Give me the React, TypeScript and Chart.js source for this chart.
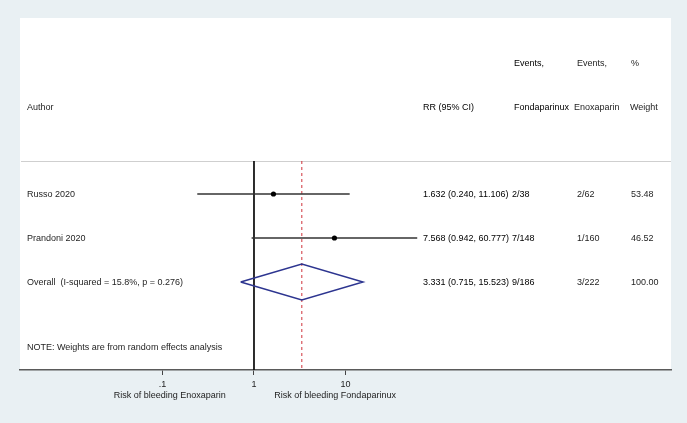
import React, { useEffect, useRef } from 'react';
import { Chart, registerables } from 'chart.js';

Chart.register(...registerables);

// ---- data ----
const studies = ['Russo 2020', 'Prandoni 2020'];
const rr = [1.632, 7.568];
const ciLow = [0.24, 0.942];
const ciHigh = [11.106, 60.777];
const rrText = ['1.632 (0.240, 11.106)', '7.568 (0.942, 60.777)'];
const eventsFonda = ['2/38', '7/148'];
const eventsEnox = ['2/62', '1/160'];
const weights = ['53.48', '46.52'];

const overallLabel = 'Overall  (I-squared = 15.8%, p = 0.276)';
const overallRR = 3.331;
const overallLow = 0.715;
const overallHigh = 15.523;
const overallRRText = '3.331 (0.715, 15.523)';
const overallFonda = '9/186';
const overallEnox = '3/222';
const overallWeight = '100.00';

const headerTop = ['Events,', 'Events,', '%'];
const headerBottom = ['Author', 'RR (95% CI)', 'Fondaparinux', 'Enoxaparin', 'Weight'];
const tickValues = [0.1, 1, 10];
const tickLabels = ['.1', '1', '10'];
const axisLabels = ['Risk of bleeding Enoxaparin', 'Risk of bleeding Fondaparinux'];
const axisLabelAt = [0.12, 7.7];
const note = 'NOTE: Weights are from random effects analysis';

// row positions on the (reversed) y scale
const studyRows = [4, 5];
const overallRow = 6;
const sepRow = 3.25;
const noteRow = 7.5;

const FONT = "'Liberation Sans', Arial, Helvetica, sans-serif";

export default function App() {
  const ref = useRef<HTMLCanvasElement | null>(null);

  useEffect(() => {
    if (!ref.current) return;

    const textPlugin = {
      id: 'forestDecor',
      beforeDraw(chart: any) {
        const { ctx, chartArea } = chart;
        ctx.save();
        ctx.fillStyle = '#e9f0f3';
        ctx.fillRect(0, 0, chart.width, chart.height);
        ctx.fillStyle = '#ffffff';
        ctx.fillRect(chartArea.left, chartArea.top, chartArea.right - chartArea.left, chartArea.bottom - chartArea.top);
        const ys = chart.scales.y;
        const sy = Math.round(ys.getPixelForValue(sepRow)) + 0.5;
        ctx.strokeStyle = '#cfcfcf';
        ctx.lineWidth = 1.2;
        ctx.beginPath();
        ctx.moveTo(chartArea.left + 1, sy);
        ctx.lineTo(chartArea.right, sy);
        ctx.stroke();
        ctx.restore();
      },
      afterDraw(chart: any) {
        const { ctx } = chart;
        const ys = chart.scales.y;
        const xs = chart.scales.x;
        ctx.save();
        ctx.textBaseline = 'middle';
        ctx.textAlign = 'left';
        const reg = `9px ${FONT}`;
        const put = (t: string, x: number, y: number, c = '#1e1e1e') => {
          ctx.font = reg;
          ctx.fillStyle = c;
          ctx.fillText(t, x, y);
        };
        const dark = '#000000';
        const h1 = ys.getPixelForValue(1.04);
        const h2 = ys.getPixelForValue(2.04);
        put(headerTop[0], 514, h1, dark);
        put(headerTop[1], 577, h1);
        put(headerTop[2], 631, h1);
        put(headerBottom[0], 27, h2);
        put(headerBottom[1], 423, h2, dark);
        put(headerBottom[2], 514, h2, dark);
        put(headerBottom[3], 574, h2);
        put(headerBottom[4], 630, h2);

        studies.forEach((s, i) => {
          const y = ys.getPixelForValue(studyRows[i]) + 1;
          put(s, 27, y);
          put(rrText[i], 423, y, dark);
          put(eventsFonda[i], 512, y, dark);
          put(eventsEnox[i], 577, y);
          put(weights[i], 631, y);
        });
        const yo = ys.getPixelForValue(overallRow) + 1;
        put(overallLabel, 27, yo);
        put(overallRRText, 423, yo, dark);
        put(overallFonda, 512, yo, dark);
        put(overallEnox, 577, yo);
        put(overallWeight, 631, yo);

        put(note, 27, ys.getPixelForValue(noteRow));

        ctx.textAlign = 'center';
        axisLabels.forEach((t, i) => {
          put(t, xs.getPixelForValue(axisLabelAt[i]), 396, '#222');
        });
        ctx.restore();
      },
    };

    const line = (pts: { x: number; y: number }[], color: string, width: number, dash: number[] = []) => ({
      data: pts,
      showLine: true,
      borderColor: color,
      backgroundColor: color,
      borderWidth: width,
      borderDash: dash,
      pointRadius: 0,
      fill: false,
      tension: 0,
    });

    const datasets: any[] = [
      {
        data: rr.map((v, i) => ({ x: v, y: studyRows[i] })),
        pointRadius: 2.6,
        pointBackgroundColor: '#000',
        pointBorderColor: '#000',
        pointBorderWidth: 0,
        showLine: false,
      },
      ...studies.map((_, i) =>
        line(
          [
            { x: ciLow[i], y: studyRows[i] },
            { x: ciHigh[i], y: studyRows[i] },
          ],
          '#333333',
          1.5,
        ),
      ),
      line(
        [
          { x: overallLow, y: overallRow },
          { x: overallRR, y: overallRow - 0.41 },
          { x: overallHigh, y: overallRow },
          { x: overallRR, y: overallRow + 0.41 },
          { x: overallLow, y: overallRow },
        ],
        '#2d3590',
        1.5,
      ),
      line(
        [
          { x: overallRR, y: sepRow },
          { x: overallRR, y: 8 },
        ],
        '#d0343c',
        1,
        [3, 3],
      ),
      line(
        [
          { x: 1, y: sepRow },
          { x: 1, y: 8 },
        ],
        '#111111',
        1,
      ),
    ];

    const chart = new Chart(ref.current, {
      type: 'scatter',
      data: { datasets },
      options: {
        animation: false,
        responsive: false,
        maintainAspectRatio: false,
        events: [],
        layout: { padding: { left: 20, right: 16, top: 18, bottom: 0 } },
        plugins: { legend: { display: false }, tooltip: { enabled: false } },
        scales: {
          x: {
            type: 'logarithmic',
            bounds: 'data',
            min: Math.pow(10, -2.557),
            max: Math.pow(10, 4.557),
            afterBuildTicks: (scale: any) => {
              scale.ticks = tickValues.map((v) => ({ value: v }));
            },
            afterFit: (scale: any) => {
              scale.height = 53;
            },
            ticks: {
              autoSkip: false,
              maxRotation: 0,
              padding: 4,
              color: '#222',
              font: { family: FONT, size: 9 },
              callback: (v: any) => {
                const i = tickValues.indexOf(Number(v));
                return i >= 0 ? tickLabels[i] : '';
              },
            },
            grid: { drawOnChartArea: false, drawTicks: true, tickLength: 5, color: '#444', lineWidth: 1 },
            border: { display: true, color: '#5a5a5a', width: 1.5 },
          },
          y: {
            type: 'linear',
            min: 0,
            max: 8,
            reverse: true,
            display: false,
          },
        },
      } as any,
      plugins: [textPlugin],
    });

    return () => chart.destroy();
  }, []);

  return (
    <div style={{ position: 'absolute', left: 0, top: 0, width: 687, height: 423 }}>
      <canvas ref={ref} width={687} height={423} style={{ display: 'block', width: 687, height: 423 }} />
    </div>
  );
}
